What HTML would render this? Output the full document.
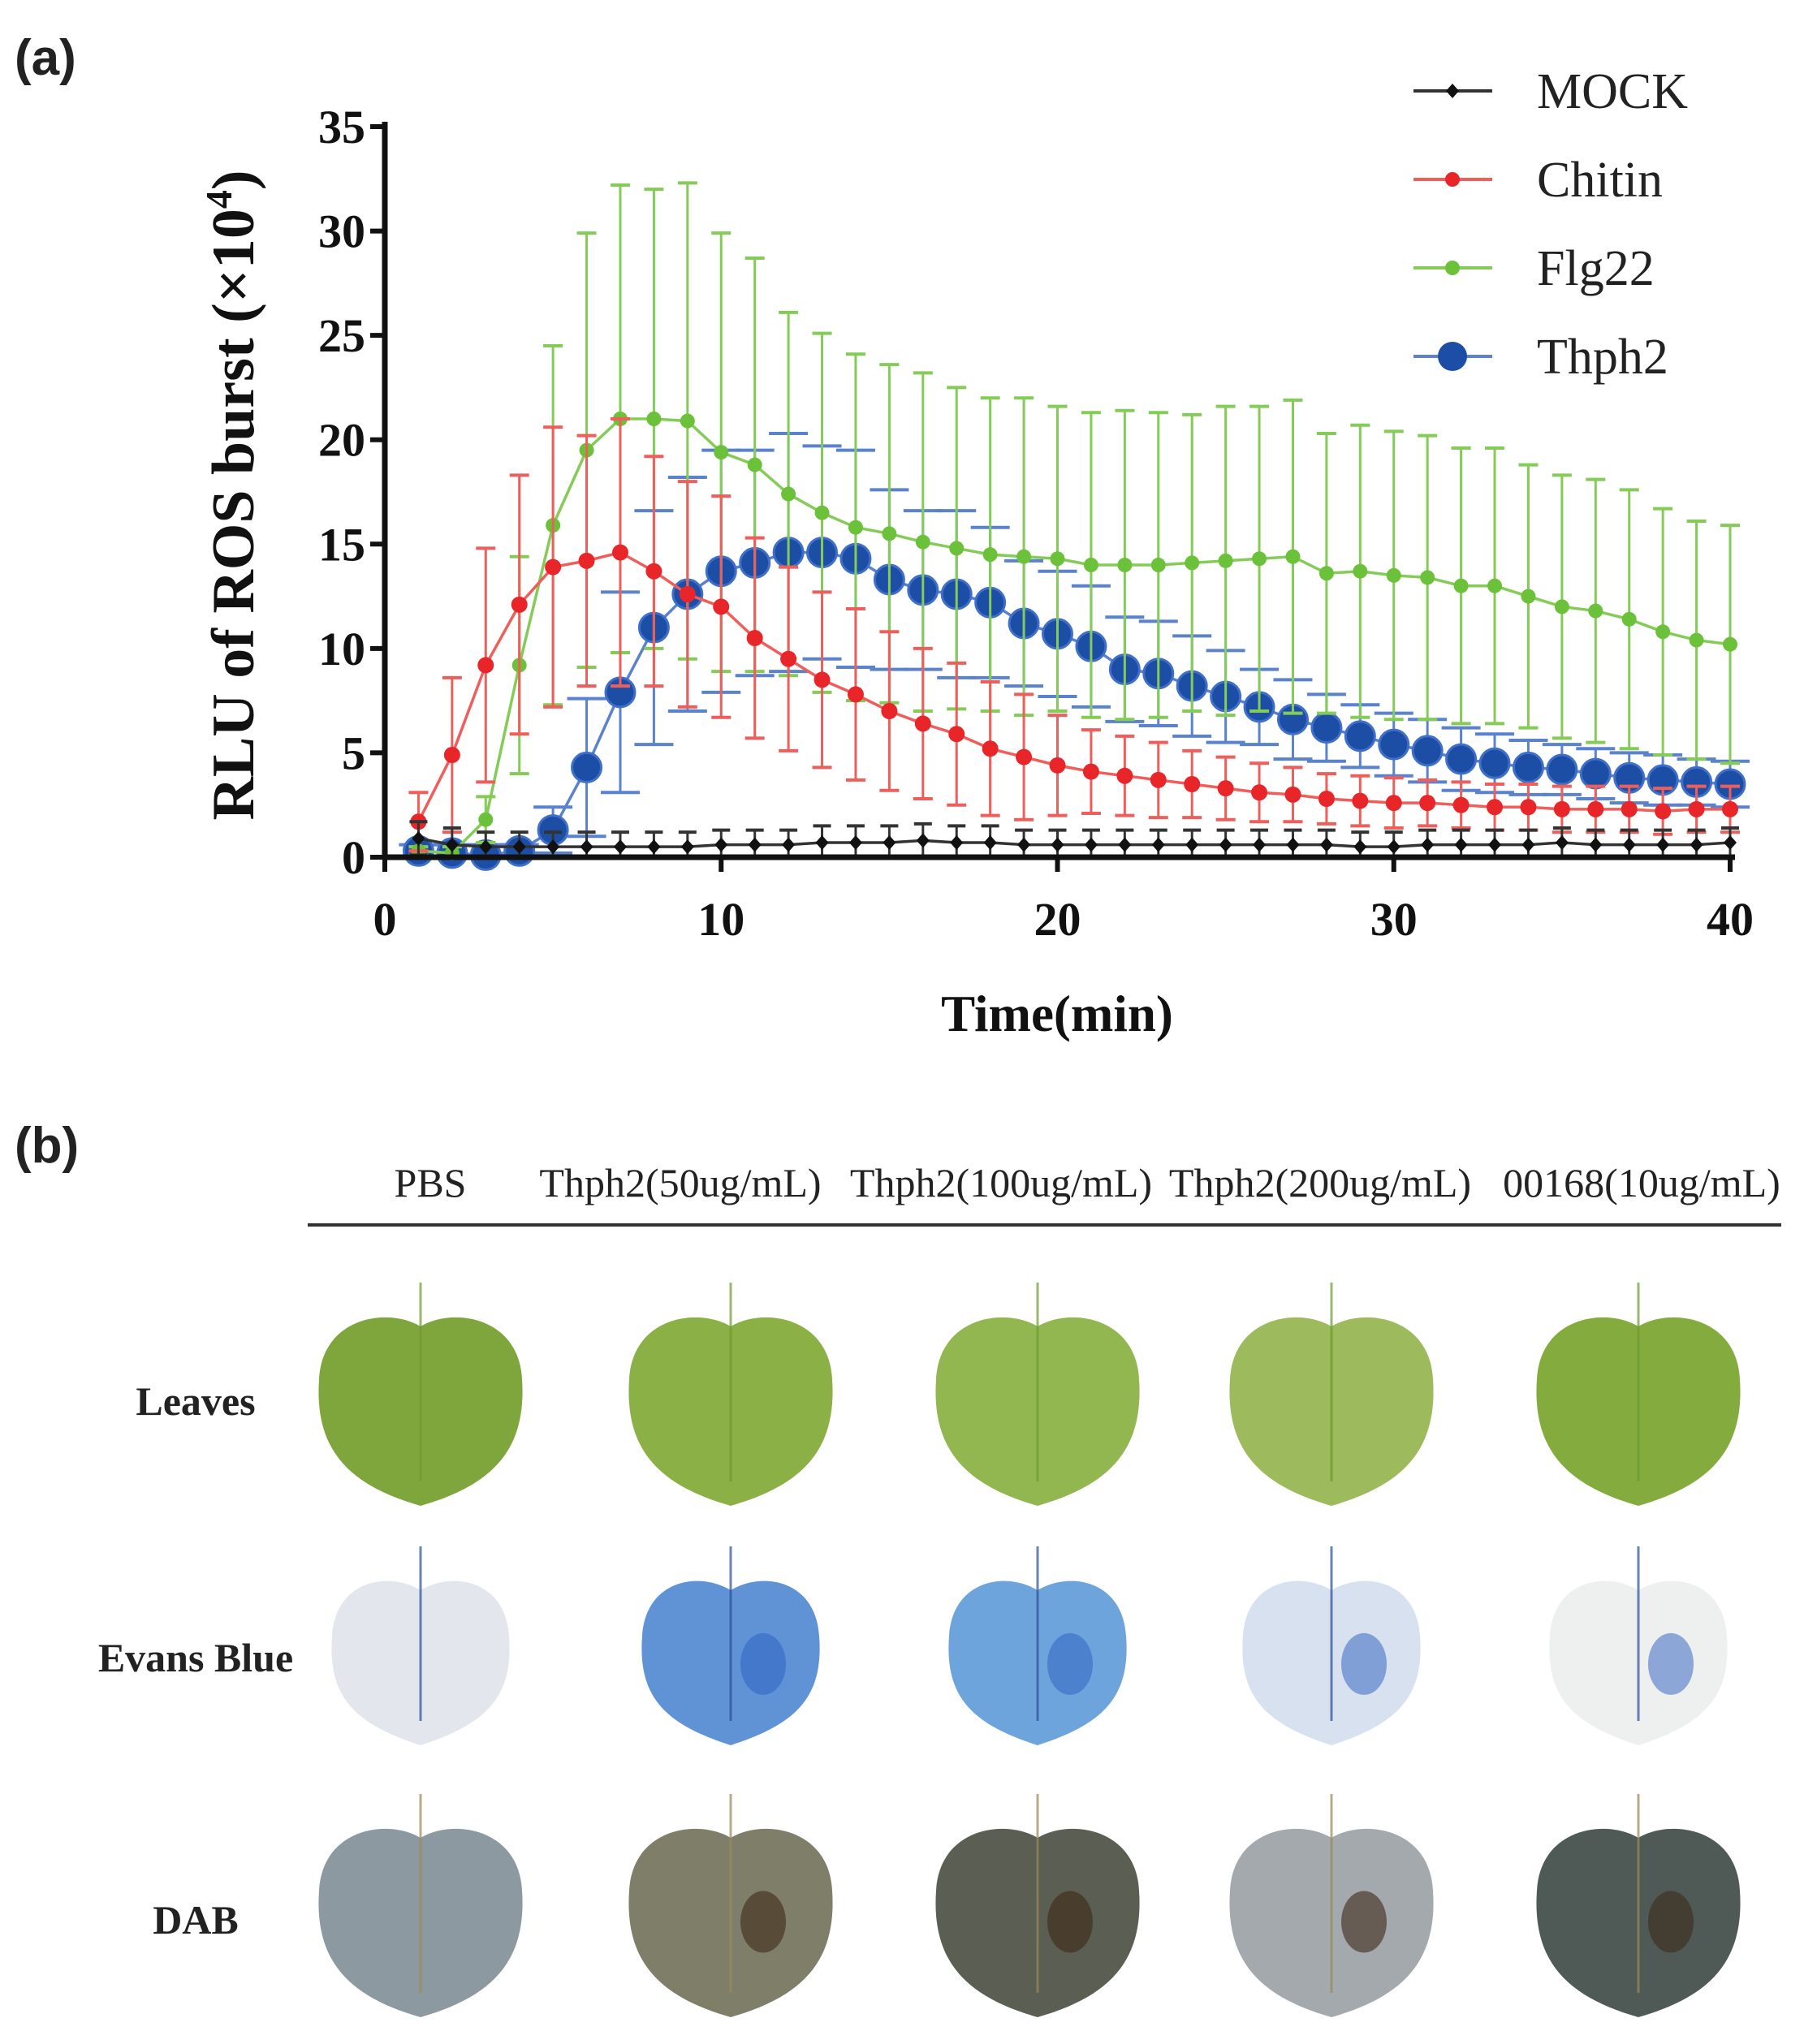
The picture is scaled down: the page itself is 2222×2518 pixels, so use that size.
<!DOCTYPE html>
<html><head><meta charset="utf-8"><style>
html,body{margin:0;padding:0;background:#fff;}
svg{display:block;}
text{font-family:"Liberation Serif",serif;}
</style></head><body>
<svg id="fig" width="2222" height="2518" viewBox="0 0 2222 2518" xmlns="http://www.w3.org/2000/svg">
<text x="18" y="92" font-size="62" font-weight="bold" fill="#222" style="font-family:'Liberation Sans',sans-serif">(a)</text>
<g id="chart"></g>
<g id="legend"></g>
<text x="18" y="1432" font-size="62" font-weight="bold" fill="#222" style="font-family:'Liberation Sans',sans-serif">(b)</text>
<g id="panelb"></g>
</svg>
<script>
const xs = [1,2,3,4,5,6,7,8,9,10,11,12,13,14,15,16,17,18,19,20,21,22,23,24,25,26,27,28,29,30,31,32,33,34,35,36,37,38,39,40];
const mockMean = [0.9,0.6,0.5,0.5,0.5,0.5,0.5,0.5,0.5,0.6,0.6,0.6,0.7,0.7,0.7,0.8,0.7,0.7,0.6,0.6,0.6,0.6,0.6,0.6,0.6,0.6,0.6,0.6,0.5,0.5,0.6,0.6,0.6,0.6,0.7,0.6,0.6,0.6,0.6,0.7];
const mockErr = [0.8,0.8,0.7,0.7,0.7,0.7,0.7,0.7,0.7,0.7,0.7,0.7,0.8,0.8,0.8,0.8,0.8,0.8,0.7,0.7,0.7,0.7,0.7,0.7,0.7,0.7,0.7,0.7,0.7,0.7,0.7,0.7,0.7,0.7,0.7,0.7,0.7,0.7,0.7,0.7];
const chitinMean = [1.7,4.9,9.2,12.1,13.9,14.2,14.6,13.7,12.6,12.0,10.5,9.5,8.5,7.8,7.0,6.4,5.9,5.2,4.8,4.4,4.1,3.9,3.7,3.5,3.3,3.1,3.0,2.8,2.7,2.6,2.6,2.5,2.4,2.4,2.3,2.3,2.3,2.2,2.3,2.3];
const chitinErr = [1.4,3.7,5.6,6.2,6.7,6.0,6.4,5.5,5.4,5.3,4.8,4.4,4.2,4.1,3.8,3.6,3.4,3.2,3.0,2.4,2.0,1.9,1.8,1.6,1.5,1.4,1.3,1.2,1.2,1.2,1.1,1.1,1.1,1.1,1.1,1.1,1.1,1.1,1.1,1.1];
const flgMean = [0.3,0.2,1.8,9.2,15.9,19.5,21.0,21.0,20.9,19.4,18.8,17.4,16.5,15.8,15.5,15.1,14.8,14.5,14.4,14.3,14.0,14.0,14.0,14.1,14.2,14.3,14.4,13.6,13.7,13.5,13.4,13.0,13.0,12.5,12.0,11.8,11.4,10.8,10.4,10.2];
const flgUpper = [0.5,0.5,2.9,14.4,24.5,29.9,32.2,32.0,32.3,29.9,28.7,26.1,25.1,24.1,23.6,23.2,22.5,22.0,22.0,21.6,21.3,21.4,21.3,21.2,21.6,21.6,21.9,20.3,20.7,20.4,20.2,19.6,19.6,18.8,18.3,18.1,17.6,16.7,16.1,15.9];
const thMean = [0.3,0.2,0.1,0.3,1.3,4.3,7.9,11.0,12.6,13.7,14.1,14.6,14.6,14.3,13.3,12.8,12.6,12.2,11.2,10.7,10.1,9.0,8.8,8.2,7.7,7.2,6.6,6.2,5.8,5.4,5.1,4.7,4.5,4.3,4.2,4.0,3.8,3.7,3.6,3.5];
const thUpper = [0.6,0.6,0.6,0.6,2.4,7.6,12.7,16.6,18.2,19.5,19.5,20.3,19.7,19.5,17.6,16.6,16.6,15.8,14.2,13.7,13.0,11.5,11.3,10.6,9.9,9.0,8.5,7.8,7.3,6.9,6.6,6.2,5.9,5.6,5.4,5.2,5.0,4.9,4.7,4.6];
const xTicks = [0,10,20,30,40];
const yTicks = [0,5,10,15,20,25,30,35];
const seriesNames = ["MOCK","Chitin","Flg22","Thph2"];

const NS="http://www.w3.org/2000/svg";
const X0=474,X1=2131,Y0=1056,Y1=156;
const xs_ = v => X0 + v*(X1-X0)/40;
const ys_ = v => Y0 - v*(Y0-Y1)/35;
function mk(parent,tag,attrs){const e=document.createElementNS(NS,tag);for(const k in attrs)e.setAttribute(k,attrs[k]);parent.appendChild(e);return e;}
const chart=document.getElementById('chart');

function drawSeries(name,mean,upper,color,errColor,cap,r,marker){
  const g=mk(chart,'g',{});
  
  
  xs.forEach((x,i)=>{
    const cx=xs_(x),lo=mean[i]-(upper[i]-mean[i]);
    const l=mk(g,'line',{x1:cx,x2:cx,y1:ys_(upper[i]),y2:ys_(Math.max(lo,0)),stroke:errColor,'stroke-width':3});
    
    
    mk(g,'line',{x1:cx-cap,x2:cx+cap,y1:ys_(upper[i]),y2:ys_(upper[i]),stroke:errColor,'stroke-width':4});
    if(lo>0) mk(g,'line',{x1:cx-cap,x2:cx+cap,y1:ys_(lo),y2:ys_(lo),stroke:errColor,'stroke-width':4});
  });
  const pts=xs.map((x,i)=>xs_(x)+','+ys_(mean[i])).join(' ');
  const pl=mk(g,'polyline',{points:pts,fill:'none',stroke:errColor,'stroke-width':3.5});
  
  
  xs.forEach((x,i)=>{
    let m;
    if(marker==='diamond'){const cx=xs_(x),cy=ys_(mean[i]);m=mk(g,'polygon',{points:`${cx},${cy-9} ${cx+8},${cy} ${cx},${cy+9} ${cx-8},${cy}`,fill:color});}
    else m=mk(g,'circle',{cx:xs_(x),cy:ys_(mean[i]),r:r,fill:color,stroke:marker==='big'?'#3f6fc8':'none','stroke-width':3});
    
    
  });
}
drawSeries('thph2',thMean,thUpper,'#1d4ea6','#5b82cc',24,18,'big');
drawSeries('flg22',flgMean,flgUpper,'#6cc13a','#84cb58',12,9,'c');
drawSeries('chitin',chitinMean,chitinMean.map((m,i)=>m+chitinErr[i]),'#e8262a','#ee5f5c',12,10,'c');
drawSeries('mock',mockMean,mockMean.map((m,i)=>m+mockErr[i]),'#111','#333',11,8,'diamond');

const ax=mk(chart,'g',{});


mk(ax,'line',{x1:X0,x2:X0,y1:Y1-6,y2:Y0+3,stroke:'#111','stroke-width':7});
mk(ax,'line',{x1:X0-3,x2:X1+6,y1:Y0,y2:Y0,stroke:'#111','stroke-width':7});
yTicks.forEach(v=>{
  mk(ax,'line',{x1:X0-18,x2:X0,y1:ys_(v),y2:ys_(v),stroke:'#111','stroke-width':6});
  const t=mk(ax,'text',{x:X0-24,y:ys_(v)+20,'text-anchor':'end','font-size':58,'font-weight':'bold',fill:'#111'});
  t.textContent=v;
  
  
});
xTicks.forEach(v=>{
  mk(ax,'line',{x1:xs_(v),x2:xs_(v),y1:Y0,y2:Y0+18,stroke:'#111','stroke-width':6});
  const t=mk(ax,'text',{x:xs_(v),y:Y0+96,'text-anchor':'middle','font-size':58,'font-weight':'bold',fill:'#111'});
  t.textContent=v;
  
  
});
const xt=mk(ax,'text',{x:1302,y:1270,'text-anchor':'middle','font-size':63,'font-weight':'bold',fill:'#111'});
xt.textContent='Time(min)';


const yt=mk(ax,'text',{x:0,y:0,'text-anchor':'middle','font-size':74,'font-weight':'bold',fill:'#111',transform:'translate(312,610) rotate(-90)'});
yt.innerHTML='RLU of ROS burst (×10<tspan dy="-27" font-size="46">4</tspan><tspan dy="27">)</tspan>';



const lg=document.getElementById('legend');
const lcol=['#111','#e8262a','#6cc13a','#1d4ea6'];
const lline=['#333','#ee5f5c','#84cb58','#5b82cc'];
seriesNames.forEach((n,i)=>{
  const y=112+i*109;
  const g=mk(lg,'g',{});
  
  
  mk(g,'line',{x1:1741,x2:1838,y1:y,y2:y,stroke:lline[i],'stroke-width':4});
  if(i===0) mk(g,'polygon',{points:`1789,${y-9} 1797,${y} 1789,${y+9} 1781,${y}`,fill:lcol[0]});
  else mk(g,'circle',{cx:1789,cy:y,r:i===3?18:9,fill:lcol[i]});
  const t=mk(g,'text',{x:1893,y:y+21,'font-size':62,fill:'#222'});
  t.textContent=n;
});

const pb=document.getElementById('panelb');
const heads=['PBS','Thph2(50ug/mL)','Thph2(100ug/mL)','Thph2(200ug/mL)','00168(10ug/mL)'];
const hx=[530,838,1233,1626,2022];
heads.forEach((h,i)=>{const t=mk(pb,'text',{x:hx[i],y:1474,'text-anchor':'middle','font-size':50,fill:'#222'});t.textContent=h;
  });
mk(pb,'line',{x1:379,x2:2194,y1:1509,y2:1509,stroke:'#333','stroke-width':4});
const rows=['Leaves','Evans Blue','DAB'];
const ry=[1727,2043,2366];
rows.forEach((r,i)=>{const t=mk(pb,'text',{x:241,y:ry[i]+16,'text-anchor':'middle','font-size':50,'font-weight':'bold',fill:'#222'});t.textContent=r;
  });
const lcx=[518,900,1278,1640,2018];
const rowTop=[1580,1905,2210],rowH=[275,245,275];
const fills=[
 ['#7ea63c','#8bb146','#92b650','#9dbb5c','#83ab3e'],
 ['#e3e6ec','#5f93d6','#6ea4dc','#d8e1ef','#eeefef'],
 ['#8d99a0','#7f7e69','#5b5e52','#a3a9ad','#4f5a57']];
const stems=['#6e9a32','#2c4f9a','#9a8a5a'];
rows.forEach((r,ri)=>{
  lcx.forEach((cx,ci)=>{
    const top=rowTop[ri],h=rowH[ri],w=ri===1?230:262,y0=top+42,b=top+h;
    const g=mk(pb,'g',{});
    
    
    mk(g,'path',{d:`M${cx},${y0+12} C${cx-40},${y0-12} ${cx-w/2+10},${y0} ${cx-w/2+6},${y0+h*0.28} C${cx-w/2},${y0+h*0.6} ${cx-w/3},${b-25} ${cx},${b} C${cx+w/3},${b-25} ${cx+w/2},${y0+h*0.6} ${cx+w/2-6},${y0+h*0.28} C${cx+w/2-10},${y0} ${cx+40},${y0-12} ${cx},${y0+12} Z`,fill:fills[ri][ci]});
    mk(g,'line',{x1:cx,x2:cx,y1:top,y2:b-30,stroke:stems[ri],'stroke-width':3,opacity:0.7});
    if(ri>0&&ci>0) mk(g,'ellipse',{cx:cx+40,cy:y0+h*0.42,rx:28,ry:38,fill:ri===1?'#2a5ec0':'#3e2a18',opacity:ri===1?0.5:0.6});
  });
});
</script>
</body></html>
